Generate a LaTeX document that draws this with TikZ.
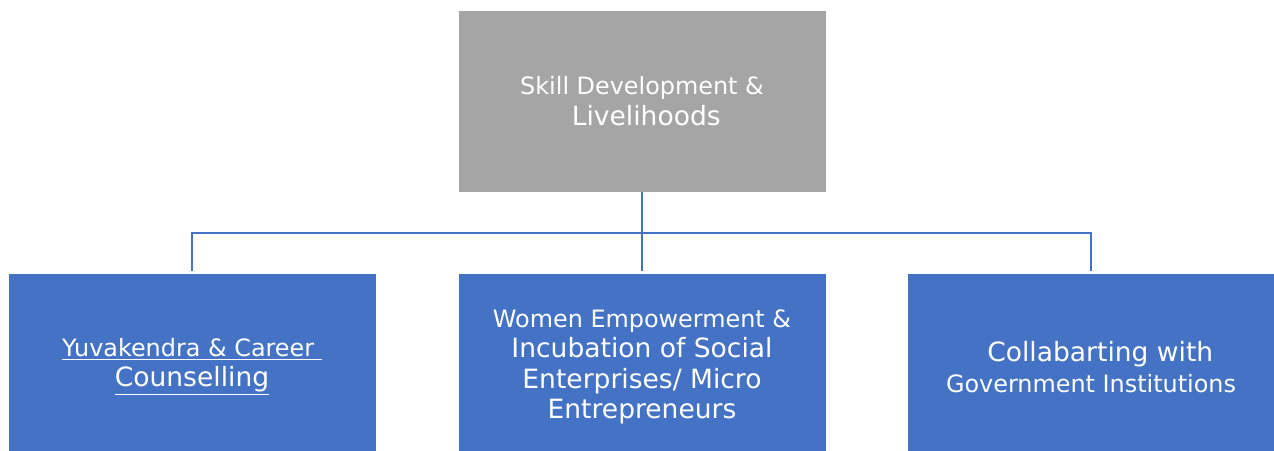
\documentclass[tikz,border=0pt]{standalone}
\usepackage{fontspec}
\setmainfont{DejaVu Sans}
\usepackage{xcolor}
\definecolor{boxblue}{HTML}{4472C4}
\definecolor{boxgrey}{HTML}{A5A5A5}
\newcommand{\smtxt}{\fontsize{13.6}{17.4}\selectfont}
\newcommand{\bgtxt}{\fontsize{15.1}{17.4}\selectfont}
\tikzset{
    unit/.style={rectangle, draw=white, line width=0.3pt, fill=boxblue, text=white,
        font=\smtxt, minimum width=368*0.02cm, minimum height=188*0.02cm,
        align=center, inner sep=0pt},
    head/.style={unit, fill=boxgrey, minimum height=182*0.02cm},
    link/.style={draw=boxblue, line width=1.2pt}
}

\begin{document}
\begin{tikzpicture}[x=0.02cm, y=-0.02cm]
    \useasboundingbox (0, 0) rectangle (1274, 450);
    \node[head] (skill) at (642, 101) {\smtxt Skill Development \&\\ \bgtxt\ Livelihoods};
    \node[unit] (yuva) at (192, 367) {\smtxt\underline{Yuvakendra \& Career\ }\\ \bgtxt\underline{Counselling}};
    \node[unit] (women) at (642, 367) {\smtxt Women Empowerment \&\\ \bgtxt Incubation of Social\\ \bgtxt Enterprises/ Micro\\ \bgtxt Entrepreneurs};
    \node[unit] (govt) at (1091, 367) {\bgtxt\hspace*{0.7em}Collabarting with\\ \smtxt Government Institutions};
    \coordinate (bus) at (642, 233);
    \draw[link] (skill.south) -- (bus);
    \draw[link, shorten >=1.2pt] (bus) -| (yuva.north);
    \draw[link, shorten >=1.2pt] (bus) -- (women.north);
    \draw[link, shorten >=1.2pt] (bus) -| (govt.north);
\end{tikzpicture}
\end{document}
